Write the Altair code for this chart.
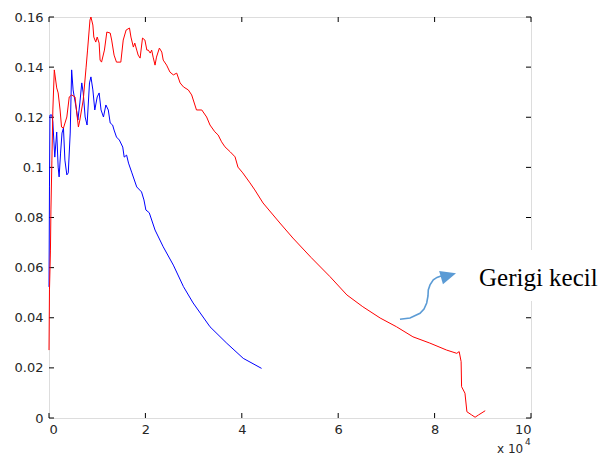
import altair as alt
import pandas as pd

# ---- data (x in units of 10^4) ----
red_x = [0, 0.01, 0.03, 0.04, 0.06, 0.08, 0.11, 0.16, 0.19, 0.23, 0.26, 0.30, 0.37, 0.42, 0.47,
         0.54, 0.57, 0.61, 0.64, 0.71, 0.77, 0.80, 0.85, 0.87, 0.91, 0.93, 0.97, 1.00, 1.04, 1.06,
         1.09, 1.15, 1.20, 1.27, 1.30, 1.35, 1.40, 1.49, 1.54, 1.60, 1.67, 1.70, 1.75, 1.78, 1.82,
         1.85, 1.89, 1.94, 1.99, 2.03, 2.06, 2.10, 2.13, 2.16, 2.20, 2.23, 2.29, 2.34, 2.37, 2.44,
         2.51, 2.58, 2.65, 2.72, 2.79, 2.89, 2.96, 3.06, 3.17, 3.27, 3.34, 3.44, 3.51, 3.58, 3.65,
         3.76, 3.86, 3.92, 4.02, 4.17, 4.27, 4.44, 4.65, 4.79, 5.06, 5.44, 5.83, 6.18, 6.51, 6.87,
         7.21, 7.55, 7.90, 8.25, 8.46, 8.51, 8.55, 8.56, 8.63, 8.67, 8.77, 8.84, 8.91, 9.05]
red_y = [0.0271, 0.0511, 0.0670, 0.0830, 0.1029, 0.1229, 0.1389, 0.1317, 0.1297, 0.1229, 0.1161,
         0.1157, 0.1201, 0.1281, 0.1289, 0.1281, 0.1229, 0.1161, 0.1189, 0.1269, 0.1400, 0.1468,
         0.1588, 0.1600, 0.1568, 0.1520, 0.1500, 0.1520, 0.1496, 0.1428, 0.1420, 0.1468, 0.1540,
         0.1536, 0.1508, 0.1448, 0.1420, 0.1420, 0.1508, 0.1548, 0.1556, 0.1520, 0.1480, 0.1496,
         0.1468, 0.1448, 0.1436, 0.1516, 0.1508, 0.1468, 0.1468, 0.1456, 0.1468, 0.1440, 0.1408,
         0.1440, 0.1476, 0.1460, 0.1428, 0.1408, 0.1380, 0.1369, 0.1376, 0.1337, 0.1321, 0.1309,
         0.1289, 0.1229, 0.1229, 0.1201, 0.1169, 0.1142, 0.1129, 0.1102, 0.1082, 0.1062, 0.1042,
         0.1001, 0.0978, 0.0938, 0.0910, 0.0858, 0.0810, 0.0778, 0.0718, 0.0640, 0.0564, 0.0491,
         0.0444, 0.0399, 0.0364, 0.0324, 0.0299, 0.0271, 0.0258, 0.0265, 0.0225, 0.0125, 0.0099,
         0.0025, 0.0012, 0.0003, 0.0012, 0.0029]

blue_x = [0, 0.01, 0.02, 0.06, 0.08, 0.10, 0.12, 0.16, 0.19, 0.21, 0.24, 0.27, 0.30, 0.33, 0.37,
          0.40, 0.44, 0.47, 0.50, 0.56, 0.60, 0.64, 0.68, 0.71, 0.75, 0.79, 0.84, 0.87, 0.91, 0.95,
          1.00, 1.04, 1.08, 1.13, 1.18, 1.23, 1.27, 1.32, 1.35, 1.40, 1.46, 1.53, 1.56, 1.61, 1.65,
          1.72, 1.82, 1.92, 1.97, 2.01, 2.08, 2.20, 2.37, 2.58, 2.79, 2.99, 3.34, 3.69, 4.03, 4.41]
blue_y = [0.0523, 0.0922, 0.1209, 0.1209, 0.1181, 0.1109, 0.1041, 0.1141, 0.1001, 0.0962, 0.1057,
          0.1137, 0.1157, 0.1029, 0.0970, 0.0978, 0.1137, 0.1389, 0.1309, 0.1241, 0.1189, 0.1257,
          0.1337, 0.1297, 0.1201, 0.1169, 0.1337, 0.1361, 0.1309, 0.1229, 0.1281, 0.1297, 0.1229,
          0.1201, 0.1249, 0.1229, 0.1177, 0.1169, 0.1149, 0.1121, 0.1109, 0.1081, 0.1041, 0.1049,
          0.1017, 0.0978, 0.0922, 0.0902, 0.0870, 0.0830, 0.0819, 0.0750, 0.0683, 0.0610, 0.0524,
          0.0459, 0.0364, 0.0298, 0.0238, 0.0198]

# annotation arrow (data coordinates)
arrow_x = [7.282, 7.490, 7.697, 7.780, 7.836, 7.863, 7.869, 7.905, 7.973, 8.050, 8.133]
arrow_y = [0.0394, 0.0399, 0.0418, 0.0435, 0.0459, 0.0487, 0.0511, 0.0531, 0.0551, 0.0561, 0.0567]
arrow_head_x = [8.289]
arrow_head_y = [0.0569]
annotation_text = "Gerigi kecil"

x_ticks = [0, 2, 4, 6, 8, 10]
y_ticks = [0, 0.02, 0.04, 0.06, 0.08, 0.1, 0.12, 0.14, 0.16]

W, H = 482, 401
AXIS_FONT = "DejaVu Sans"
AXIS_COLOR = "#262626"

red_df = pd.DataFrame({"x": red_x, "y": red_y, "i": range(len(red_x))})
blue_df = pd.DataFrame({"x": blue_x, "y": blue_y, "i": range(len(blue_x))})
arrow_df = pd.DataFrame({"x": arrow_x, "y": arrow_y, "i": range(len(arrow_x))})
head_df = pd.DataFrame({"x": arrow_head_x, "y": arrow_head_y})
xt_df = pd.DataFrame({"x": x_ticks})
yt_df = pd.DataFrame({"y": y_ticks})

xscale = alt.Scale(domain=[0, 10], nice=False, zero=False)
yscale = alt.Scale(domain=[0, 0.16], nice=False, zero=False)

xaxis = alt.Axis(values=x_ticks, domain=False, ticks=False, tickSize=0, grid=False,
                 labelPadding=5, labelFont=AXIS_FONT, labelFontSize=13, labelColor=AXIS_COLOR,
                 title=None, format="d")
yaxis = alt.Axis(values=y_ticks, domain=False, ticks=False, tickSize=0, grid=False,
                 labelPadding=6, labelFont=AXIS_FONT, labelFontSize=13, labelColor=AXIS_COLOR,
                 title=None, format=".2~f")

X = alt.X("x:Q", scale=xscale, axis=xaxis)
Y = alt.Y("y:Q", scale=yscale, axis=yaxis)

red = alt.Chart(red_df).mark_line(color="#ff0000", strokeWidth=1).encode(x=X, y=Y, order="i:Q")
blue = alt.Chart(blue_df).mark_line(color="#0000ff", strokeWidth=1).encode(x=X, y=Y, order="i:Q")

tick_len = 5
tb = alt.Chart(xt_df).mark_rule(color="black").encode(
    x=alt.X("x:Q", scale=xscale), y=alt.value(H), y2=alt.value(H - tick_len))
tt = alt.Chart(xt_df).mark_rule(color="black").encode(
    x=alt.X("x:Q", scale=xscale), y=alt.value(0), y2=alt.value(tick_len))
tl = alt.Chart(yt_df).mark_rule(color="black").encode(
    y=alt.Y("y:Q", scale=yscale), x=alt.value(0), x2=alt.value(tick_len))
tr = alt.Chart(yt_df).mark_rule(color="black").encode(
    y=alt.Y("y:Q", scale=yscale), x=alt.value(W), x2=alt.value(W - tick_len))

box = alt.Chart(pd.DataFrame({"a": [0]})).mark_rect(color="white").encode(
    x=alt.value(422), x2=alt.value(560), y=alt.value(233), y2=alt.value(284))
label = alt.Chart(pd.DataFrame({"t": [annotation_text]})).mark_text(
    font="Liberation Serif", fontSize=25, color="black", align="left", baseline="alphabetic"
).encode(text="t:N", x=alt.value(430), y=alt.value(269))

arrow = alt.Chart(arrow_df).mark_line(color="#5b9bd5", strokeWidth=1.6).encode(
    x=alt.X("x:Q", scale=xscale), y=alt.Y("y:Q", scale=yscale), order="i:Q")
head = alt.Chart(head_df).mark_point(
    shape="M1,0L-1,-0.88L-1,0.88Z", filled=True, color="#5b9bd5", opacity=1,
    size=243, angle=344, strokeWidth=0
).encode(x=alt.X("x:Q", scale=xscale), y=alt.Y("y:Q", scale=yscale))

exp_base = alt.Chart(pd.DataFrame({"t": ["x 10"]})).mark_text(
    font=AXIS_FONT, fontSize=12, color=AXIS_COLOR, align="left", baseline="top"
).encode(text="t:N", x=alt.value(448), y=alt.value(427))
exp_sup = alt.Chart(pd.DataFrame({"t": ["4"]})).mark_text(
    font=AXIS_FONT, fontSize=9, color=AXIS_COLOR, align="left", baseline="top"
).encode(text="t:N", x=alt.value(476), y=alt.value(421))

chart = alt.layer(
    tb, tt, tl, tr, blue, red, arrow, head, box, label, exp_base, exp_sup
).properties(
    width=W, height=H,
    autosize=alt.AutoSizeParams(type="none"),
    padding={"left": 41, "top": 9, "right": 67, "bottom": 40},
).configure_view(stroke="black", strokeWidth=1).configure(background="white")

chart.save("out.html", embed_options={"renderer": "svg", "actions": False})
